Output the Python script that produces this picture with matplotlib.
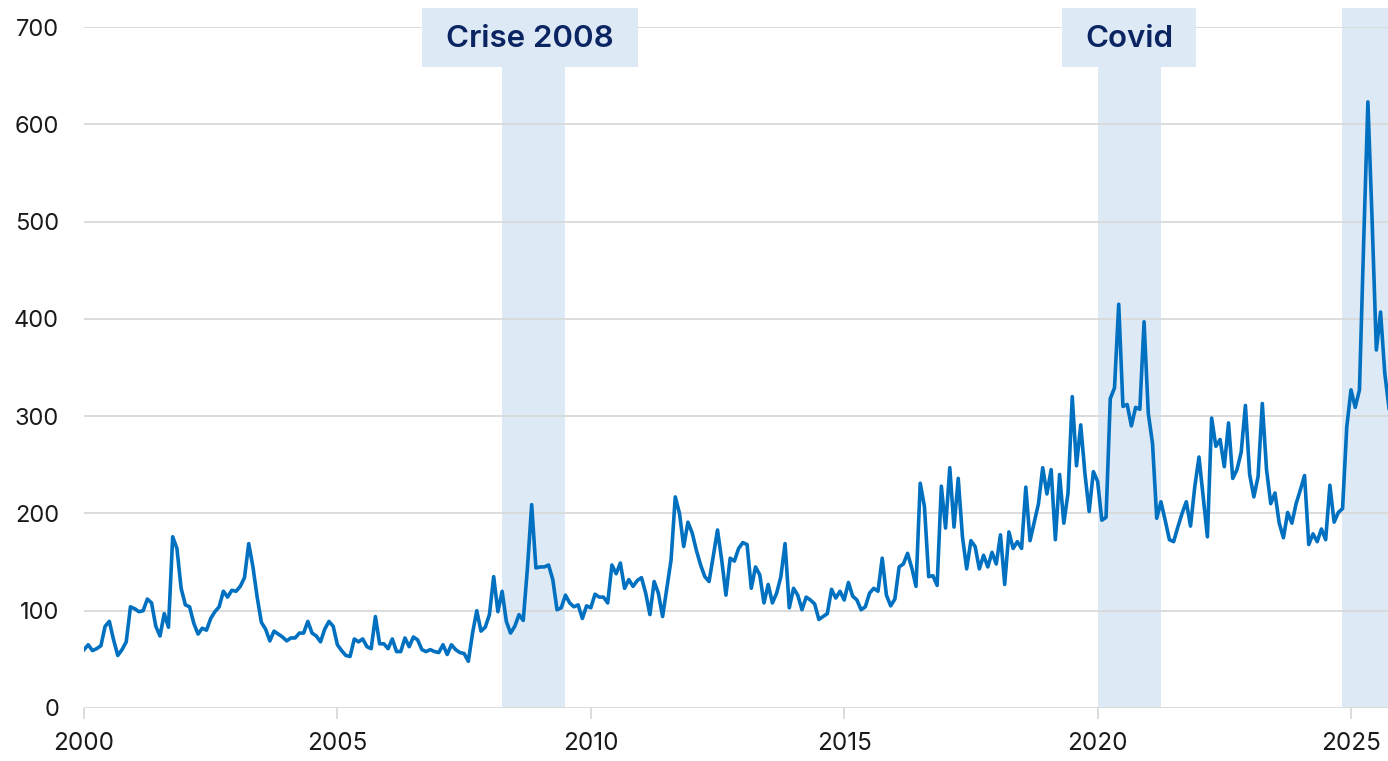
import numpy as np
import matplotlib
matplotlib.use('Agg')
from matplotlib import pyplot as plt
from matplotlib.patches import Rectangle

# monthly values, Jan 2000 onwards
v2000 = [60, 65, 59, 61, 64, 84, 89, 70, 54, 60, 68, 104]
v2001 = [102, 99, 100, 112, 108, 84, 74, 97, 83, 176, 164, 123]
v2002 = [106, 104, 87, 76, 82, 80, 92, 99, 104, 120, 114, 121]
v2003 = [120, 125, 134, 169, 145, 114, 88, 81, 69, 79, 76, 73]
v2004 = [69, 72, 72, 77, 77, 89, 77, 74, 68, 81, 89, 84]
v2005 = [65, 59, 54, 53, 71, 68, 71, 63, 61, 94, 66, 66]
v2006 = [61, 71, 58, 58, 72, 63, 73, 70, 60, 58, 60, 58]
v2007 = [57, 65, 55, 65, 60, 57, 56, 48, 77, 100, 79, 83]
v2008 = [96, 135, 99, 120, 89, 77, 84, 96, 90, 144, 209, 144]
v2009 = [145, 145, 147, 132, 101, 103, 116, 108, 104, 106, 92, 105]
v2010 = [103, 117, 114, 114, 108, 147, 138, 149, 123, 132, 125, 131]
v2011 = [134, 118, 96, 130, 118, 94, 123, 152, 217, 200, 166, 191]
v2012 = [180, 162, 147, 135, 130, 156, 183, 152, 116, 154, 151, 164]
v2013 = [170, 168, 123, 145, 137, 108, 127, 108, 118, 135, 169, 103]
v2014 = [123, 116, 101, 114, 111, 107, 91, 94, 97, 122, 113, 120]
v2015 = [111, 129, 115, 111, 101, 104, 118, 123, 120, 154, 116, 105]
v2016 = [112, 145, 148, 159, 144, 125, 231, 207, 135, 136, 126, 228]
v2017 = [185, 247, 186, 236, 176, 143, 172, 166, 143, 157, 145, 160]
v2018 = [148, 178, 127, 181, 164, 171, 164, 227, 172, 191, 210, 247]
v2019 = [220, 245, 173, 240, 190, 221, 320, 249, 291, 241, 202, 243]
v2020 = [233, 193, 196, 318, 329, 415, 310, 312, 290, 309, 307, 397]
v2021 = [303, 272, 195, 212, 193, 173, 171, 186, 200, 212, 187, 227]
v2022 = [258, 217, 176, 298, 269, 276, 248, 293, 236, 245, 263, 311]
v2023 = [240, 217, 238, 313, 245, 210, 221, 190, 175, 201, 190, 210]
v2024 = [224, 239, 168, 179, 171, 184, 173, 229, 191, 201, 205, 289]
v2025 = [327, 309, 327, 479, 623, 501, 368, 407, 344, 308, 370]

values = (v2000 + v2001 + v2002 + v2003 + v2004 + v2005 + v2006 + v2007 + v2008
          + v2009 + v2010 + v2011 + v2012 + v2013 + v2014 + v2015 + v2016
          + v2017 + v2018 + v2019 + v2020 + v2021 + v2022 + v2023 + v2024 + v2025)
dates = 2000 + np.arange(len(values)) / 12.0

# shaded periods: (start, end, label, label box centre, label box width)
periods = [(2008.25, 2009.5, 'Crise 2008', 2008.80, 4.28),
           (2020.0, 2021.25, 'Covid', 2020.62, 2.64),
           (2024.83, 2026.5, '', None, None)]
year_ticks = [2000, 2005, 2010, 2015, 2020, 2025]
y_ticks = [0, 100, 200, 300, 400, 500, 600, 700]

blue = '#0070c0'
band = '#dde9f5'
navy = '#0b2462'
grid = '#d9d9d9'

plt.rcParams['font.family'] = ['Inter', 'DejaVu Sans']

fig = plt.figure(figsize=(13.88, 7.61), dpi=100)
ax = fig.add_axes([84 / 1388, 1 - 708 / 761, 1 - 84 / 1388, (708 - 27) / 761])

x_left, x_right = 2000, 2025.73
top_band, top_box = 658.8, 719.4

for start, end, label, mid, w in periods:
    if label:
        ax.add_patch(Rectangle((start, 0), end - start, top_band,
                               color=band, lw=0, zorder=0.5, clip_on=False))
        ax.add_patch(Rectangle((mid - w / 2, top_band), w, top_box - top_band,
                               color=band, lw=0, zorder=3, clip_on=False))
        ax.text(mid, (top_band + top_box) / 2 - 1.5, label, ha='center',
                va='center', fontsize=22.5, fontweight='semibold', color=navy,
                zorder=4, clip_on=False)
    else:
        ax.add_patch(Rectangle((start, 0), x_right - start, top_box,
                               color=band, lw=0, zorder=0.5, clip_on=False))

for yv in y_ticks:
    ax.axhline(yv, color=grid, lw=1.3, zorder=1)

ax.plot(dates, values, color=blue, lw=2.6, zorder=2, solid_joinstyle='round')

ax.set_xlim(x_left, x_right)
ax.set_ylim(0, 700)
ax.set_xticks(year_ticks)
ax.set_yticks(y_ticks)
ax.tick_params(axis='x', length=8, width=1.3, color=grid, pad=9,
               labelsize=17.5, labelcolor='#1a1a1a')
ax.tick_params(axis='y', length=0, pad=18, labelsize=17, labelcolor='#1a1a1a')
for s in ax.spines.values():
    s.set_visible(False)

fig.savefig('out.png', dpi=100)
